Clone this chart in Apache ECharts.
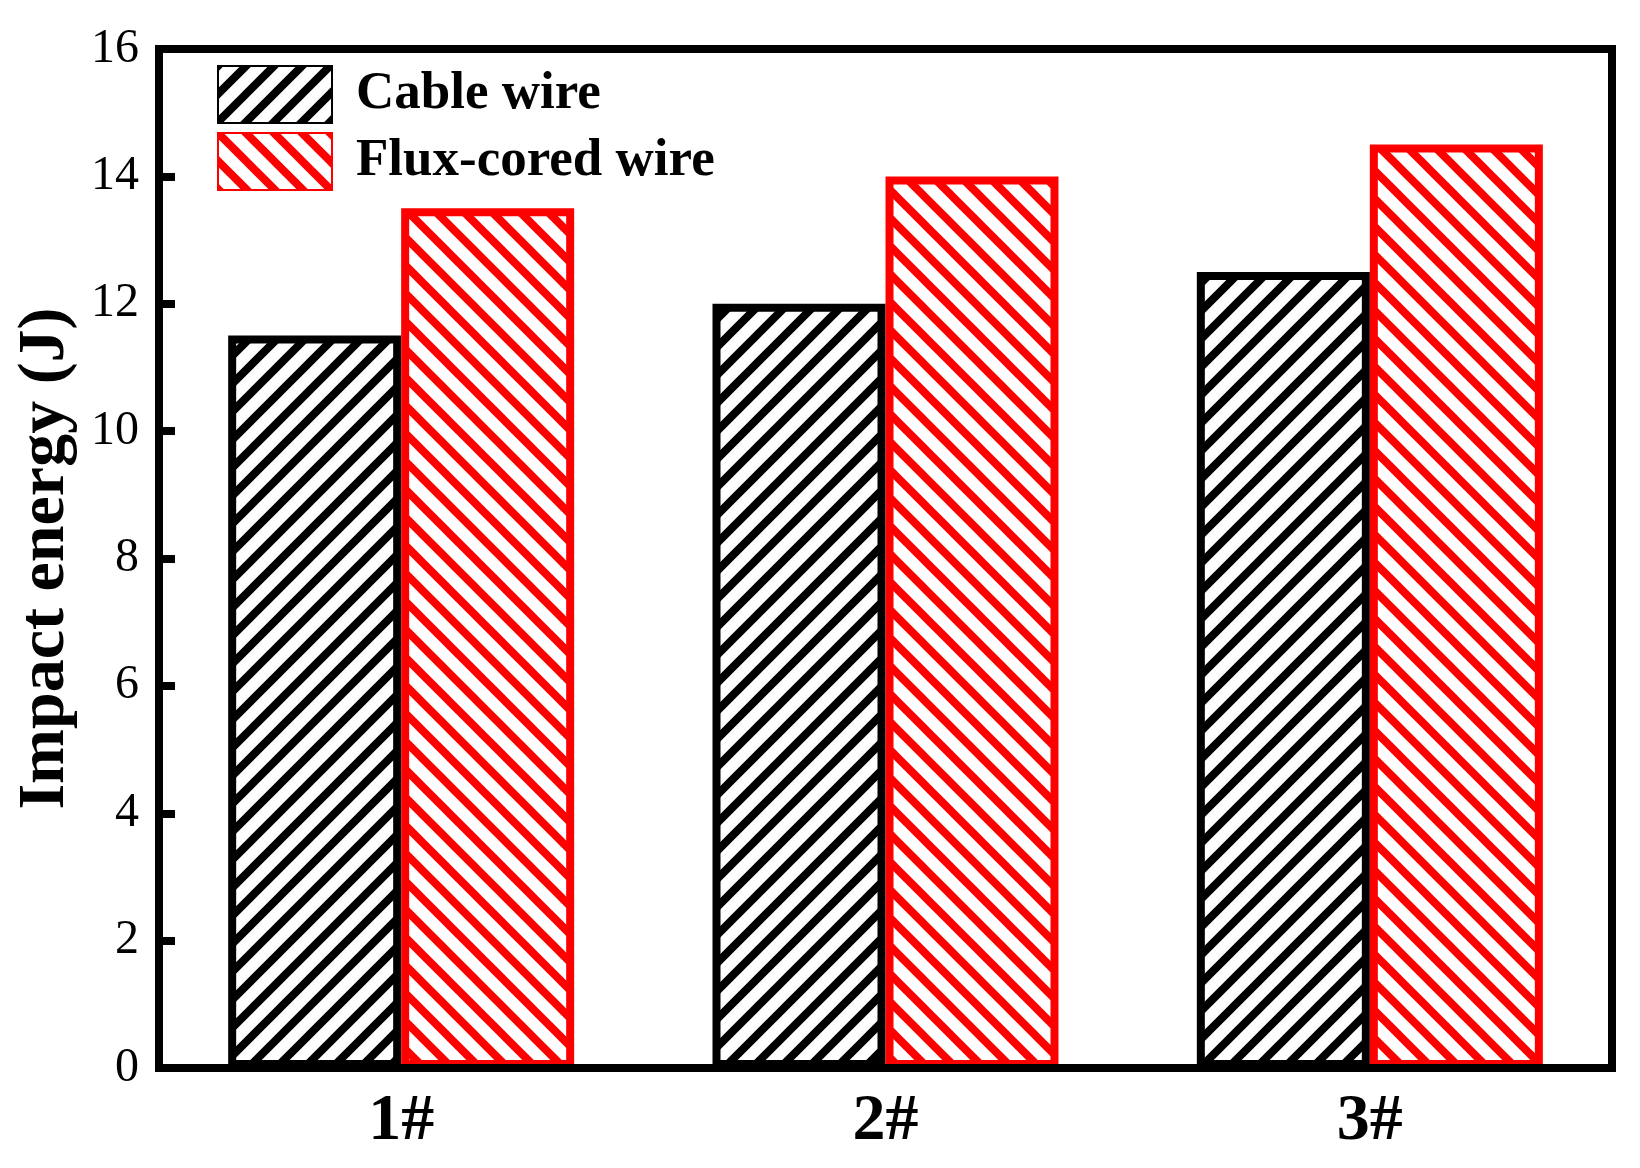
<!DOCTYPE html>
<html>
<head>
<meta charset="utf-8">
<script src="https://cdn.jsdelivr.net/npm/echarts@6/dist/echarts.min.js"></script>
<style>
  html, body { margin: 0; padding: 0; background: #fff; }
  #chart { width: 1640px; height: 1168px; }
</style>
</head>
<body>
<div id="chart"></div>
<script>
const categories = ['1#', '2#', '3#']
const cableWire = [11.5, 12, 12.5]
const fluxCoredWire = [13.5, 14, 14.5]
const seriesNames = ['Cable wire', 'Flux-cored wire']

const FONT = "'Liberation Serif', 'Times New Roman', serif"

// diagonal hatch tile, dir 1 = "/" and -1 = "\"
function makeHatch(color, dir) {
  const s = 28
  const c = document.createElement('canvas')
  c.width = s
  c.height = s
  const ctx = c.getContext('2d')
  ctx.fillStyle = '#fff'
  ctx.fillRect(0, 0, s, s)
  ctx.strokeStyle = color
  ctx.lineWidth = 8
  ctx.lineCap = 'square'
  const e = 6
  for (let k = -1; k <= 1; k++) {
    ctx.beginPath()
    if (dir > 0) {
      ctx.moveTo(k * s - e, s + e)
      ctx.lineTo(k * s + s + e, -e)
    } else {
      ctx.moveTo(k * s - e, -e)
      ctx.lineTo(k * s + s + e, s + e)
    }
    ctx.stroke()
  }
  return c
}

const chart = echarts.init(document.getElementById('chart'))

const option = {
  animation: false,
  backgroundColor: '#fff',
  grid: {
    left: 159,
    right: 28,
    top: 49,
    bottom: 100,
    show: true,
    borderColor: '#000',
    borderWidth: 8,
    backgroundColor: 'transparent'
  },
  legend: {
    orient: 'vertical',
    left: 217,
    top: 65,
    padding: 0,
    itemWidth: 114,
    itemHeight: 57,
    itemGap: 8,
    icon: 'rect',
    selectedMode: false,
    data: seriesNames,
    textStyle: {
      fontFamily: FONT,
      fontWeight: 'bold',
      fontSize: 53,
      color: '#000',
      lineHeight: 57,
      padding: [0, 0, 0, 19]
    }
  },
  xAxis: {
    type: 'category',
    data: categories,
    z: 5,
    axisLine: { lineStyle: { color: '#000', width: 8 } },
    axisTick: { show: false },
    axisLabel: {
      fontFamily: FONT,
      fontWeight: 'bold',
      fontSize: 66,
      color: '#000',
      margin: 21
    }
  },
  yAxis: {
    type: 'value',
    min: 0,
    max: 16,
    interval: 2,
    name: 'Impact energy (J)',
    nameLocation: 'middle',
    nameGap: 80,
    nameTextStyle: {
      fontFamily: FONT,
      fontWeight: 'bold',
      fontSize: 66,
      color: '#000'
    },
    axisLine: { show: true, lineStyle: { color: '#000', width: 8 } },
    axisTick: { show: true, inside: true, length: 16, lineStyle: { color: '#000', width: 8 } },
    splitLine: { show: false },
    axisLabel: {
      fontFamily: FONT,
      fontSize: 48,
      color: '#000',
      margin: 20
    }
  },
  series: [
    {
      name: seriesNames[0],
      type: 'bar',
      data: cableWire,
      barWidth: 173,
      barGap: '0%',
      itemStyle: {
        color: { image: makeHatch('#000', 1), repeat: 'repeat' },
        borderColor: '#000',
        borderWidth: 8
      }
    },
    {
      name: seriesNames[1],
      type: 'bar',
      data: fluxCoredWire,
      barWidth: 173,
      barGap: '0%',
      itemStyle: {
        color: { image: makeHatch('#ff0000', -1), repeat: 'repeat' },
        borderColor: '#ff0000',
        borderWidth: 8
      }
    }
  ]
}

chart.setOption(option)
</script>
</body>
</html>
